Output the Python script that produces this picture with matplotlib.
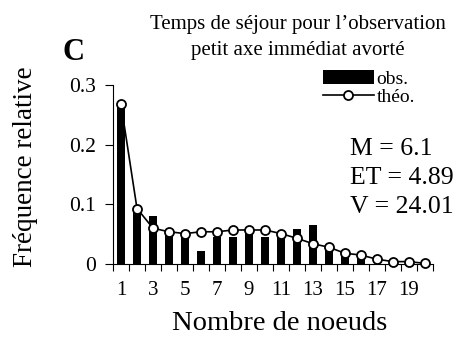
import numpy as np
import matplotlib
matplotlib.use('Agg')
import matplotlib.pyplot as plt

plt.rcParams['font.family'] = ['Liberation Serif', 'DejaVu Serif']

# observed vs theoretical relative frequencies, 1..20 nodes
nodes = np.arange(1, 21)
obs = [0.270, 0.092, 0.081, 0.055, 0.049, 0.022, 0.045, 0.046, 0.058, 0.046,
       0.050, 0.059, 0.065, 0.031, 0.020, 0.013, 0.0, 0.0, 0.0, 0.0]
theo = [0.268, 0.093, 0.060, 0.054, 0.051, 0.054, 0.054, 0.057, 0.057, 0.057,
        0.051, 0.043, 0.034, 0.028, 0.018, 0.015, 0.008, 0.004, 0.004, 0.001]
yticks = [0, 0.1, 0.2, 0.3]
ytick_labels = ['0', '0.1', '0.2', '0.3']
stats = ['M = 6.1', 'ET = 4.89', 'V = 24.01']

W, H = 458, 343
fig = plt.figure(figsize=(W / 100, H / 100), dpi=100)
ax = fig.add_axes([113 / W, 1 - 264 / H, 320 / W, 179 / H])

bars = ax.bar(nodes, obs, width=0.47, color='black', label='obs.', zorder=2)
line, = ax.plot(nodes, theo, color='black', lw=1.2, marker='o', markersize=6.5,
                markerfacecolor='white', markeredgecolor='black', markeredgewidth=1.3,
                label='théo.', zorder=3, clip_on=False)

ax.set_xlim(0.5, 20.5)
ax.set_ylim(0, 0.3)
for s in ['top', 'right']:
    ax.spines[s].set_visible(False)

# ticks between categories, labels on odd categories
ax.set_xticks(np.arange(0.5, 21, 1))
ax.set_xticklabels([])
ax.set_xticks(nodes[::2], minor=True)
ax.set_xticklabels([str(n) for n in nodes[::2]], minor=True)
ax.tick_params(axis='x', which='major', direction='out', length=5, width=0.8)
ax.tick_params(axis='x', which='minor', length=0, pad=12, labelsize=15)
ax.set_yticks(yticks)
ax.set_yticklabels(ytick_labels)
ax.tick_params(axis='y', direction='out', length=6, width=0.8, pad=6, labelsize=15.5)

ax.set_xlabel('Nombre de noeuds', fontsize=20.5)
ax.xaxis.set_label_coords(0.52, -0.265)
ax.set_ylabel('Fréquence relative', fontsize=19.5)
ax.yaxis.set_label_coords(-0.235, 0.545)

ax.legend([bars, line], ['obs.', 'théo.'], loc='upper left',
          bbox_to_anchor=(323 / W, 1 - 70 / H), bbox_transform=fig.transFigure,
          frameon=False, fontsize=14, handlelength=2.6, handleheight=0.7,
          handletextpad=0.15, labelspacing=0.05, borderpad=0, borderaxespad=0)

fig.text(298 / W, 1 - 29 / H, "Temps de séjour pour l\u2019observation",
         ha='center', va='baseline', fontsize=15)
fig.text(298 / W, 1 - 55 / H, "petit axe immédiat avorté",
         ha='center', va='baseline', fontsize=15)
fig.text(74 / W, 1 - 60 / H, 'C', fontsize=22, fontweight='bold',
         ha='center', va='baseline')

for i, s in enumerate(stats):
    fig.text(350 / W, 1 - (155 + 29 * i) / H, s, fontsize=18.5,
             ha='left', va='baseline')

fig.savefig('out.png', dpi=100)
